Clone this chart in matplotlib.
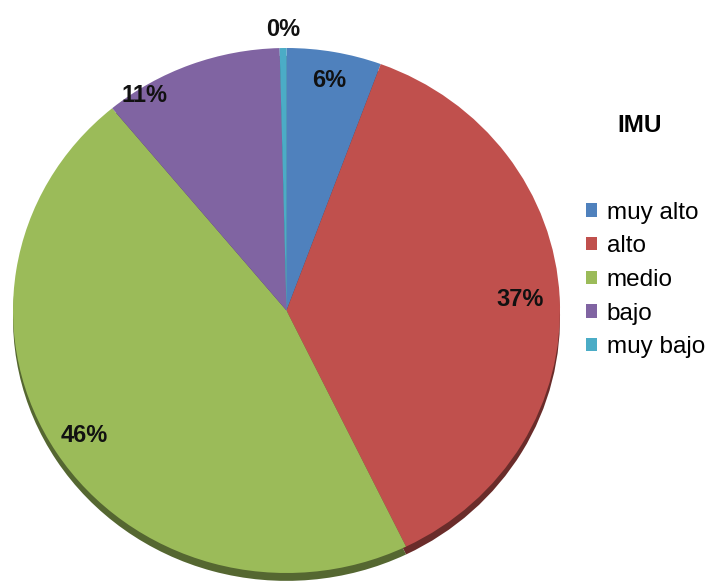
import numpy as np
import matplotlib
matplotlib.use("Agg")
import matplotlib.pyplot as plt

plt.rcParams['font.family'] = ['Liberation Sans', 'DejaVu Sans']

categories = ['muy alto', 'alto', 'medio', 'bajo', 'muy bajo']
values = [5.6, 37.2, 46.2, 10.6, 0.4]
colors = ['#4F81BD', '#C0504D', '#9BBB59', '#8064A2', '#4BACC6']

# label placement (radius, shift along the circle in fraction of total)
label_r = [0.89, 0.855, 0.88, 0.97, 1.07]
label_shift = [0.0, 0.0, 0.0, -0.033, 0.0]

fig = plt.figure(figsize=(7.11, 5.86), dpi=100)
ax = fig.add_axes([13 / 711, 13 / 586, 547 / 711, 525 / 586])

# darker copy underneath for the 3D rim
dark = [tuple(c * 0.55 for c in matplotlib.colors.to_rgb(col)) for col in colors]
ax.pie(values, colors=dark, startangle=90, counterclock=False,
       center=(0, -0.03), wedgeprops=dict(linewidth=0, clip_on=False))
wedges, _ = ax.pie(values, colors=colors, startangle=90, counterclock=False,
                   wedgeprops=dict(linewidth=0, clip_on=False))
ax.set_aspect('auto')
ax.set_xlim(-1, 1)
ax.set_ylim(-1, 1)
ax.axis('off')

total = sum(values)
cum = np.cumsum([0] + values[:-1])
for v, c0, r, s in zip(values, cum, label_r, label_shift):
    frac = (c0 + v / 2) / total + s
    ang = np.deg2rad(90 - 360 * frac)
    ax.text(r * np.cos(ang), r * np.sin(ang), '%.0f%%' % (100 * v / total),
            ha='center', va='center', fontsize=17, fontweight='bold',
            color='#111111', clip_on=False)

fig.text(640 / 711, 1 - 125 / 586, 'IMU', ha='center', va='center',
         fontsize=17.5, fontweight='bold')
fig.legend(wedges, categories, loc='center left',
           bbox_to_anchor=(586 / 711, 1 - 280 / 586), frameon=False,
           fontsize=17.5, handlelength=0.45, handleheight=0.45,
           handletextpad=0.4, labelspacing=0.48, borderpad=0,
           borderaxespad=0)

fig.savefig('out.png', dpi=100)
